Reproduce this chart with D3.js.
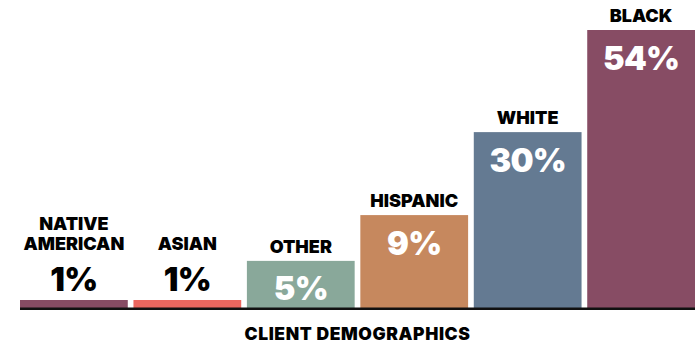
<!DOCTYPE html>
<html>
<head>
<meta charset="utf-8">
<script src="https://cdn.jsdelivr.net/npm/d3@7"></script>
<style>
  html, body { margin: 0; padding: 0; background: #fff; }
  svg { display: block; }
  text { font-family: Inter, "Noto Sans", sans-serif; font-weight: 900; }
</style>
</head>
<body>
<svg id="chart" width="695" height="344"></svg>
<script>
// Client demographics, share of clients by group (%)
const categories = ["NATIVE AMERICAN", "ASIAN", "OTHER", "HISPANIC", "WHITE", "BLACK"];
const labelLines = [["NATIVE", "AMERICAN"], ["ASIAN"], ["OTHER"], ["HISPANIC"], ["WHITE"], ["BLACK"]];
const shares = [1, 1, 5, 9, 30, 54];
const colors = ["#874c64", "#eb675f", "#89a89a", "#c6885e", "#647a92", "#874c64"];
const title = "CLIENT DEMOGRAPHICS";

// Bar heights follow a stepped display scale so the small shares stay readable
const heightStops = [0, 1, 5, 9, 30, 54];
const heightShare = [0, 0.027, 0.168, 0.333, 0.632, 1];

const width = 695, height = 344;
const margin = { top: 30, right: 0, bottom: 36.5, left: 20 };
const baseline = height - margin.bottom;

const svg = d3.select("#chart");

const x = d3.scaleBand()
  .domain(categories)
  .range([margin.left, width - margin.right])
  .paddingInner(0.05)
  .paddingOuter(0);

const plotH = baseline - margin.top;
const y = d3.scaleLinear()
  .domain(heightStops)
  .range(heightShare.map(s => baseline - s * plotH));

const data = categories.map((c, i) => ({
  cat: c, lines: labelLines[i], value: shares[i], color: colors[i]
}));

// bars
svg.append("g")
  .selectAll("rect")
  .data(data)
  .join("rect")
  .attr("x", d => x(d.cat))
  .attr("y", d => y(d.value))
  .attr("width", x.bandwidth())
  .attr("height", d => baseline + 1 - y(d.value))
  .attr("fill", d => d.color);

// baseline rule
svg.append("line")
  .attr("x1", margin.left)
  .attr("x2", width)
  .attr("y1", baseline + 1.25)
  .attr("y2", baseline + 1.25)
  .attr("stroke", "#111")
  .attr("stroke-width", 2.5);

const inside = d => d.value >= 5;
const pctBase = d => inside(d) ? y(d.value) + 39.5 : y(d.value) - 9.5;
const catBase = d => inside(d) ? y(d.value) - 8 : pctBase(d) - 40.5;

// value labels
svg.append("g")
  .selectAll("text")
  .data(data)
  .join("text")
  .attr("x", d => x(d.cat) + x.bandwidth() / 2)
  .attr("y", pctBase)
  .attr("text-anchor", "middle")
  .attr("font-size", 32.5)
  .attr("letter-spacing", -0.8)
  .attr("fill", d => inside(d) ? "#fff" : "#000")
  .text(d => d.value + "%");

// category labels
const cats = svg.append("g")
  .selectAll("text")
  .data(data)
  .join("text")
  .attr("text-anchor", "middle")
  .attr("font-size", 18)
  .attr("fill", "#000");

cats.selectAll("tspan")
  .data(d => d.lines.map((t, j) => ({ t, j, n: d.lines.length, d })))
  .join("tspan")
  .attr("x", o => x(o.d.cat) + x.bandwidth() / 2)
  .attr("y", o => catBase(o.d) - (o.n - 1 - o.j) * 20)
  .text(o => o.t);

// axis title
svg.append("text")
  .attr("x", margin.left + (width - margin.left) / 2)
  .attr("y", 340)
  .attr("text-anchor", "middle")
  .attr("font-size", 17.5)
  .attr("letter-spacing", 0.6)
  .attr("fill", "#000")
  .text(title);
</script>
</body>
</html>
